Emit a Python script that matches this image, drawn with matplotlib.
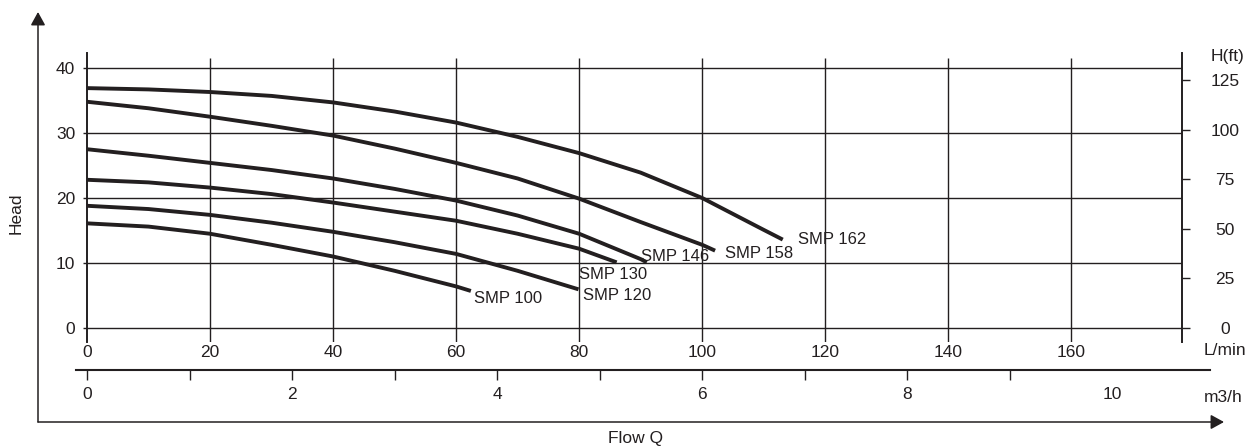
import matplotlib
matplotlib.use('Agg')
import matplotlib.pyplot as plt
from matplotlib.patches import FancyArrowPatch

plt.rcParams['font.family'] = ['Liberation Sans', 'DejaVu Sans']
plt.rcParams['font.size'] = 12.5

# pump curves: flow (L/min) vs head (m)
q_162 = [0, 10, 20, 30, 40, 50, 60, 70, 80, 90, 100, 110, 113.1]
h_162 = [36.9, 36.7, 36.3, 35.7, 34.7, 33.3, 31.6, 29.4, 26.9, 23.9, 20.0, 15.1, 13.6]
q_158 = [0, 10, 20, 30, 40, 50, 60, 70, 80, 90, 100, 102.1]
h_158 = [34.8, 33.8, 32.5, 31.1, 29.6, 27.6, 25.4, 23.0, 19.9, 16.3, 12.8, 11.9]
q_146 = [0, 10, 20, 30, 40, 50, 60, 70, 80, 90, 91.0]
h_146 = [27.5, 26.5, 25.4, 24.3, 23.0, 21.4, 19.6, 17.3, 14.5, 10.6, 10.1]
q_130 = [0, 10, 20, 30, 40, 50, 60, 70, 80, 86.1]
h_130 = [22.8, 22.4, 21.6, 20.6, 19.3, 17.9, 16.5, 14.5, 12.2, 10.1]
q_120 = [0, 10, 20, 30, 40, 50, 60, 70, 79.9]
h_120 = [18.8, 18.3, 17.4, 16.2, 14.8, 13.2, 11.4, 8.8, 5.95]
q_100 = [0, 10, 20, 30, 40, 50, 60, 62.4]
h_100 = [16.1, 15.6, 14.5, 12.8, 11.0, 8.8, 6.4, 5.7]

names = ['SMP 162', 'SMP 158', 'SMP 146', 'SMP 130', 'SMP 120', 'SMP 100']
flows = [q_162, q_158, q_146, q_130, q_120, q_100]
heads = [h_162, h_158, h_146, h_130, h_120, h_100]
# label offset from curve end, pixels
label_off = [(15, 0), (10, -3), (-6, 6), (-38, -12), (4, -6), (3, -8)]

lmin_ticks = [0, 20, 40, 60, 80, 100, 120, 140, 160]
head_ticks = [0, 10, 20, 30, 40]
ft_ticks = [0, 25, 50, 75, 100, 125]
m3h_ticks = list(range(0, 11))
m3h_labels = ['0', '', '2', '', '4', '', '6', '', '8', '', '10']

c = '#231f20'
W, H = 1255, 448


def px(x, y):
    return x / W, 1 - y / H


fig = plt.figure(figsize=(W / 100, H / 100), dpi=100)

# main chart area (pixels 87..1182, 53..342)
ax = fig.add_axes([87 / W, (H - 342) / H, 1095 / W, 289 / H])
ax.set_xlim(0, 178)
ax.set_ylim(-2.15, 42.3)
for s in ['top', 'bottom', 'right']:
    ax.spines[s].set_visible(False)
ax.spines['left'].set_linewidth(1.4)
ax.spines['left'].set_color(c)

ax.hlines(head_ticks, 0, 178, color=c, lw=1.0)
ax.vlines(lmin_ticks[1:], -2.15, 41.5, color=c, lw=1.0)

for q, h in zip(flows, heads):
    ax.plot(q, h, color=c, lw=2.8, solid_capstyle='butt', solid_joinstyle='round')

for name, q, h, off in zip(names, flows, heads, label_off):
    ax.annotate(name, xy=(q[-1], h[-1]), xytext=off, textcoords='offset pixels',
                ha='left', va='center', color=c, fontsize=12)

ax.set_yticks(head_ticks)
ax.tick_params(axis='y', direction='out', length=3, width=1.0, pad=5.5, colors=c)
ax.set_xticks(lmin_ticks)
ax.tick_params(axis='x', length=0, pad=2, colors=c)

# head in feet on the right
ax2 = ax.twinx()
ax2.set_ylim(-2.15 / 0.3048, 42.3 / 0.3048)
for s in ['top', 'bottom', 'left']:
    ax2.spines[s].set_visible(False)
ax2.spines['right'].set_linewidth(1.4)
ax2.spines['right'].set_color(c)
ax2.set_yticks(ft_ticks)
ax2.tick_params(axis='y', direction='out', length=6, width=1.0, pad=25, colors=c)
for lab in ax2.get_yticklabels():
    lab.set_horizontalalignment('center')

# m3/h scale
ax3 = fig.add_axes([76 / W, (H - 370) / H, 1134 / W, 0.0001])
ax3.set_xlim((76 - 87) / 102.53, (1210 - 87) / 102.53)
for s in ['top', 'left', 'right']:
    ax3.spines[s].set_visible(False)
ax3.spines['bottom'].set_linewidth(1.5)
ax3.spines['bottom'].set_color(c)
ax3.set_yticks([])
ax3.set_xticks(m3h_ticks)
ax3.set_xticklabels(m3h_labels)
ax3.tick_params(axis='x', direction='out', length=7, width=1.0, pad=5, colors=c)
ax3.xaxis.get_major_ticks()[-1].tick1line.set_visible(False)

# outer arrows
fig.add_artist(FancyArrowPatch(px(38, 422), px(38, 12), transform=fig.transFigure,
                               arrowstyle='-|>,head_length=0.4,head_width=0.22',
                               mutation_scale=20, lw=1.1, color=c, shrinkA=0, shrinkB=0))
fig.add_artist(FancyArrowPatch(px(38, 422), px(1224, 422), transform=fig.transFigure,
                               arrowstyle='-|>,head_length=0.4,head_width=0.22',
                               mutation_scale=20, lw=1.1, color=c, shrinkA=0, shrinkB=0))

fig.text(*px(16, 213), 'Head', rotation=90, ha='center', va='center', color=c)
fig.text(*px(635, 438), 'Flow Q', ha='center', va='center', color=c)
fig.text(*px(1228, 57), 'H(ft)', ha='center', va='center', color=c)
fig.text(*px(1225, 350), 'L/min', ha='center', va='center', color=c)
fig.text(*px(1223, 398), 'm3/h', ha='center', va='center', color=c)

fig.savefig('out.png', dpi=100)
